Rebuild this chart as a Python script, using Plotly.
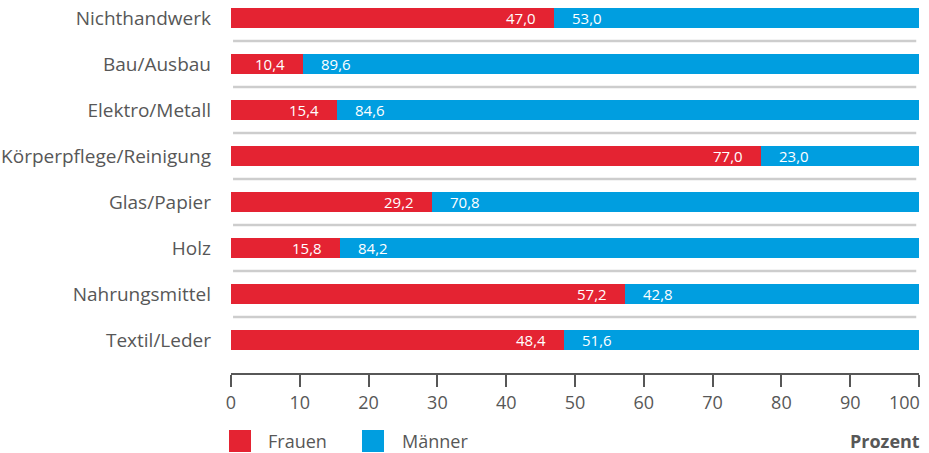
import plotly.graph_objects as go

categories = ["Nichthandwerk", "Bau/Ausbau", "Elektro/Metall", "Körperpflege/Reinigung",
              "Glas/Papier", "Holz", "Nahrungsmittel", "Textil/Leder"]
frauen = [47.0, 10.4, 15.4, 77.0, 29.2, 15.8, 57.2, 48.4]
maenner = [53.0, 89.6, 84.6, 23.0, 70.8, 84.2, 42.8, 51.6]
tick_vals = [0, 10, 20, 30, 40, 50, 60, 70, 80, 90, 100]
tick_labels = ["0", "10", "20", "30", "40", "50", "60", "70", "80", "90", "100"]
series_names = ["Frauen", "Männer"]

RED = "#E42332"
BLUE = "#009EE0"
GRAY = "#575757"
FONT = "Open Sans"

def fmt(v):
    return f"{v:.1f}".replace(".", ",")

fig = go.Figure()
fig.add_trace(go.Bar(y=categories, x=frauen, orientation="h", name=series_names[0],
                     marker=dict(color=RED, line=dict(width=0)), width=0.435,
                     hoverinfo="skip", showlegend=False))
fig.add_trace(go.Bar(y=categories, x=maenner, orientation="h", name=series_names[1],
                     marker=dict(color=BLUE, line=dict(width=0)), width=0.435,
                     hoverinfo="skip", showlegend=False))

annotations = []
for c, f, m in zip(categories, frauen, maenner):
    annotations.append(dict(x=f, y=c, xref="x", yref="y", text=fmt(f), showarrow=False,
                            xanchor="right", xshift=-16,
                            font=dict(color="white", size=15, family=FONT)))
    annotations.append(dict(x=f, y=c, xref="x", yref="y", text=fmt(m), showarrow=False,
                            xanchor="left", xshift=16,
                            font=dict(color="white", size=15, family=FONT)))

# last tick label is right-aligned at the axis end so it stays inside the page
shown_ticks = tick_labels[:-1] + [""]
annotations.append(dict(x=tick_vals[-1], y=-0.0777, xref="x", yref="paper",
                        text=tick_labels[-1], showarrow=False, xanchor="right",
                        yanchor="middle", xshift=3,
                        font=dict(color=GRAY, size=18, family=FONT)))

LEG_Y = -0.1823
annotations.append(dict(x=1, y=LEG_Y, xref="paper", yref="paper", text="<b>Prozent</b>",
                        showarrow=False, xanchor="right", yanchor="middle", xshift=3,
                        font=dict(color=GRAY, size=18, family=FONT)))
annotations.append(dict(x=0, y=LEG_Y, xref="paper", yref="paper", text=series_names[0],
                        showarrow=False, xanchor="left", yanchor="middle", xshift=35,
                        font=dict(color=GRAY, size=18, family=FONT)))
annotations.append(dict(x=0, y=LEG_Y, xref="paper", yref="paper", text=series_names[1],
                        showarrow=False, xanchor="left", yanchor="middle", xshift=169,
                        font=dict(color=GRAY, size=18, family=FONT)))

shapes = []
for i in range(len(categories) - 1):
    shapes.append(dict(type="line", xref="x", yref="y", x0=0.3, x1=99.6,
                       y0=i + 0.5, y1=i + 0.5, line=dict(color="#CDCDCD", width=2.5),
                       layer="below"))
for col, px0 in [(RED, -2), (BLUE, 131)]:
    shapes.append(dict(type="rect", xref="paper", yref="paper",
                       xsizemode="pixel", ysizemode="pixel", xanchor=0, yanchor=LEG_Y,
                       x0=px0, x1=px0 + 22, y0=-11, y1=11,
                       fillcolor=col, line=dict(width=0)))

fig.update_layout(
    barmode="stack",
    width=929, height=453,
    margin=dict(l=231, r=10, t=0, b=80, autoexpand=False),
    plot_bgcolor="white", paper_bgcolor="white",
    font=dict(family=FONT, color=GRAY, size=18),
    showlegend=False,
    annotations=annotations,
    shapes=shapes,
    xaxis=dict(range=[0, 100], tickvals=tick_vals, ticktext=shown_ticks,
               ticks="outside", ticklen=12,
               tickwidth=2, tickcolor=GRAY, showline=True, linecolor=GRAY, linewidth=2,
               showgrid=False, zeroline=False, tickfont=dict(size=18, color=GRAY),
               fixedrange=True),
    yaxis=dict(categoryorder="array", categoryarray=categories,
               range=[7.717, -0.391], showgrid=False, zeroline=False, showline=False,
               ticks="", ticklabelstandoff=19, tickfont=dict(size=19, color=GRAY),
               fixedrange=True),
)

fig.write_html("out.html", config={"displayModeBar": False},
               post_script="document.body.style.margin='0px';document.body.style.overflow='hidden';")
